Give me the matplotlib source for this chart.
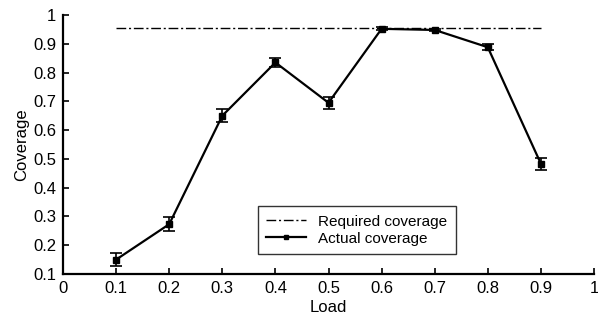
import matplotlib
matplotlib.use("Agg")
import matplotlib.pyplot as plt
from matplotlib.lines import Line2D

load = [0.1, 0.2, 0.3, 0.4, 0.5, 0.6, 0.7, 0.8, 0.9]
actual = [0.15, 0.273, 0.65, 0.835, 0.695, 0.952, 0.948, 0.888, 0.483]
err = [0.022, 0.025, 0.022, 0.015, 0.02, 0.005, 0.005, 0.01, 0.02]
required_x = [0.1, 0.9]
required_y = [0.955, 0.955]
xticks = [0, 0.1, 0.2, 0.3, 0.4, 0.5, 0.6, 0.7, 0.8, 0.9, 1]
xticklabels = ["0", "0.1", "0.2", "0.3", "0.4", "0.5", "0.6", "0.7", "0.8", "0.9", "1"]
yticks = [0.1, 0.2, 0.3, 0.4, 0.5, 0.6, 0.7, 0.8, 0.9, 1]
yticklabels = ["0.1", "0.2", "0.3", "0.4", "0.5", "0.6", "0.7", "0.8", "0.9", "1"]

plt.rcParams['font.family'] = ['Liberation Sans', 'DejaVu Sans']
fig = plt.figure(figsize=(5.98, 3.25), dpi=100)
ax = fig.add_axes([63/598, 1-274/325, (594-63)/598, (274-15)/325])

ax.plot(required_x, required_y, color='black', linestyle=(0, (7, 2, 1.5, 2)), linewidth=1.0,
        label='Required coverage')
ax.errorbar(load, actual, yerr=err, color='black', linewidth=1.6, marker='s', markersize=4,
            capsize=4, elinewidth=1.2, capthick=1.2)
actual_handle = Line2D([], [], color='black', linewidth=1.6, marker='s', markersize=3,
                       label='Actual coverage')

ax.set_xlim(0, 1)
ax.set_ylim(0.1, 1)
ax.set_xticks(xticks)
ax.set_xticklabels(xticklabels)
ax.set_yticks(yticks)
ax.set_yticklabels(yticklabels)
ax.tick_params(direction='in', length=4, width=1.2, labelsize=12, pad=5)
ax.spines['top'].set_visible(False)
ax.spines['right'].set_visible(False)
ax.spines['left'].set_linewidth(1.6)
ax.spines['bottom'].set_linewidth(1.6)
ax.set_xlabel('Load', fontsize=12, labelpad=3)
ax.set_ylabel('Coverage', fontsize=12, labelpad=3)

h, l = ax.get_legend_handles_labels()
leg = ax.legend(handles=h + [actual_handle], loc='lower left',
                bbox_to_anchor=((258-63)/531, (274-254)/259),
                fontsize=11, frameon=True, fancybox=False, edgecolor='black',
                borderpad=0.55, handlelength=2.6, labelspacing=0.2, borderaxespad=0,
                handletextpad=0.8)
leg.get_frame().set_linewidth(1.0)

fig.savefig('out.png', dpi=100)
